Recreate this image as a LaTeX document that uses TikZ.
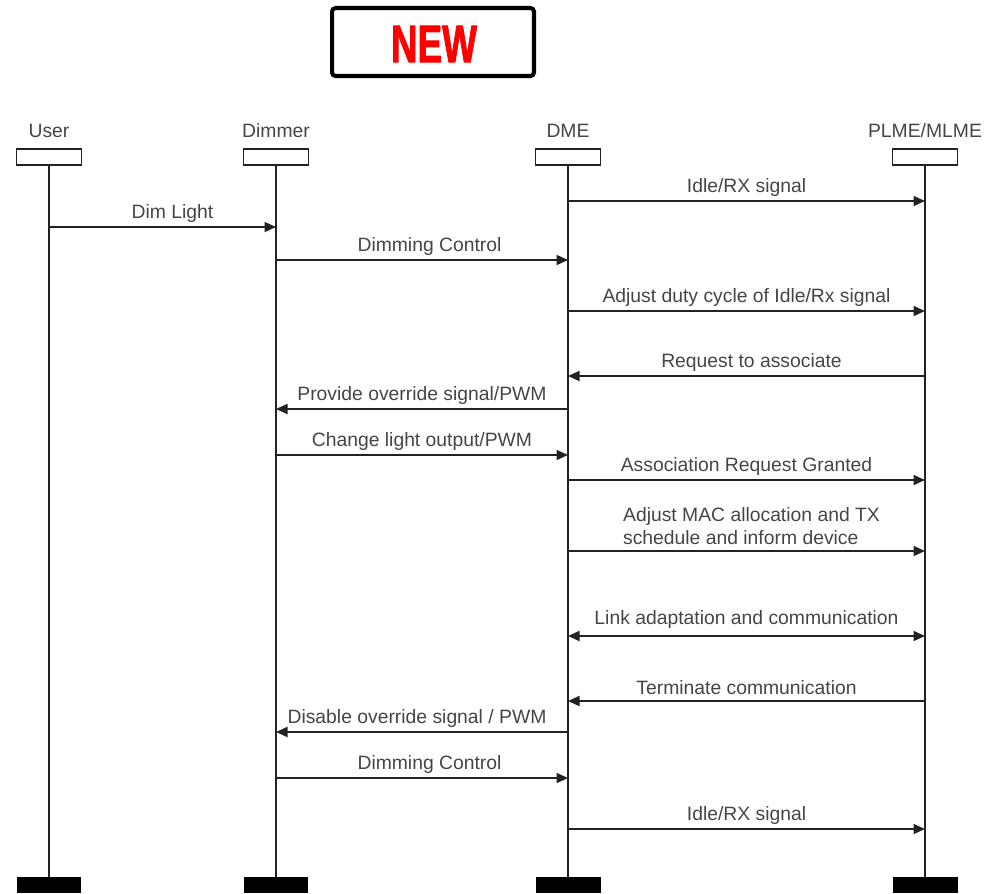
\documentclass[tikz,border=0pt]{standalone}
\usepackage{fontspec}
\setmainfont{Liberation Sans}
\newfontfamily\bannerfont{Liberation Sans}[BoldFeatures={FakeBold=2}]
\usetikzlibrary{arrows.meta,positioning}
\definecolor{sqline}{HTML}{222222}
\definecolor{sqtext}{HTML}{454545}
\definecolor{sqred}{HTML}{FF0000}
\tikzset{
  head/.style={draw=sqline,fill=white,minimum width=1.3cm,minimum height=3.2mm,
               inner sep=0pt,line width=0.7pt},
  foot/.style={fill=black,minimum width=1.3cm,minimum height=3.2mm,inner sep=0pt},
  actor/.style={font=\fontsize{11}{13}\selectfont,text=sqtext,inner sep=0pt,
                text height=8pt,text depth=0pt},
  life/.style={sqline,line width=1pt},
  msg/.style={-{Triangle[length=2.3mm,width=2mm]},sqline,line width=1pt},
  msgboth/.style={{Triangle[length=2.3mm,width=2mm]}-{Triangle[length=2.3mm,width=2mm]},
                  sqline,line width=1pt},
  lab/.style={font=\fontsize{11}{13}\selectfont,text=sqtext,inner sep=2pt},
  banner/.style={draw=black,line width=2.3pt,rounded corners=2pt,
                 minimum width=4.04cm,minimum height=1.36cm},
}
\begin{document}
\begin{tikzpicture}[x=0.02cm,y=-0.02cm]
  \useasboundingbox (0,0) rectangle (990,893);
  \node[banner] (new) at (433,42) {};
  \node (newtext) at (434,44)
    {\scalebox{0.7}[1]{\fontsize{30}{30}\selectfont\bannerfont\bfseries\color{sqred}NEW}};
  % lifeline heads
  \node[head] (user) at (49,157) {};
  \node[head] (dimmer) at (276,157) {};
  \node[head] (dme) at (568,157) {};
  \node[head] (plme) at (925,157) {};
  \node[actor,above=2.2mm of user] (userlab) {User};
  \node[actor,above=2.2mm of dimmer] (dimmerlab) {Dimmer};
  \node[actor,above=2.2mm of dme] (dmelab) {DME};
  \node[actor,above=2.2mm of plme] (plmelab) {PLME/MLME};
  % lifeline ends
  \node[foot] (userend) at (49,885) {};
  \node[foot] (dimmerend) at (276,885) {};
  \node[foot] (dmeend) at (568,885) {};
  \node[foot] (plmeend) at (925,885) {};
  \draw[life] (user) -- (userend);
  \draw[life] (dimmer) -- (dimmerend);
  \draw[life] (dme) -- (dmeend);
  \draw[life] (plme) -- (plmeend);
  % message rows
  \coordinate (r1) at (0,201);
  \coordinate (r2) at (0,227);
  \coordinate (r3) at (0,260);
  \coordinate (r4) at (0,311);
  \coordinate (r5) at (0,376);
  \coordinate (r6) at (0,409);
  \coordinate (r7) at (0,455);
  \coordinate (r8) at (0,480);
  \coordinate (r9) at (0,551);
  \coordinate (r10) at (0,636);
  \coordinate (r11) at (0,701);
  \coordinate (r12) at (0,732);
  \coordinate (r13) at (0,778);
  \coordinate (r14) at (0,829);
  \draw[msg] (dme |- r1) -- node[lab,above]{Idle/RX signal} (plme |- r1);
  \draw[msg] (user |- r2) -- node[lab,above,xshift=0.2cm]{Dim Light} (dimmer |- r2);
  \draw[msg] (dimmer |- r3) -- node[lab,above,xshift=0.15cm]{Dimming Control} (dme |- r3);
  \draw[msg] (dme |- r4) -- node[lab,above]{Adjust duty cycle of Idle/Rx signal} (plme |- r4);
  \draw[msg] (plme |- r5) -- node[lab,above,xshift=0.1cm]{Request to associate} (dme |- r5);
  \draw[msg] (dme |- r6) -- node[lab,above]{Provide override signal/PWM} (dimmer |- r6);
  \draw[msg] (dimmer |- r7) -- node[lab,above]{Change light output/PWM} (dme |- r7);
  \draw[msg] (dme |- r8) -- node[lab,above]{Association Request Granted} (plme |- r8);
  \draw[msg] (dme |- r9) -- node[lab,above,align=left,xshift=0.1cm,yshift=1pt]
    {Adjust MAC allocation and TX\\schedule and inform device} (plme |- r9);
  \draw[msgboth] (dme |- r10) -- node[lab,above,yshift=2pt]{Link adaptation and communication} (plme |- r10);
  \draw[msg] (plme |- r11) -- node[lab,above,yshift=1pt]{Terminate communication} (dme |- r11);
  \draw[msg] (dme |- r12) -- node[lab,above,xshift=-0.1cm]{Disable override signal / PWM} (dimmer |- r12);
  \draw[msg] (dimmer |- r13) -- node[lab,above,xshift=0.15cm]{Dimming Control} (dme |- r13);
  \draw[msg] (dme |- r14) -- node[lab,above]{Idle/RX signal} (plme |- r14);
\end{tikzpicture}
\end{document}
